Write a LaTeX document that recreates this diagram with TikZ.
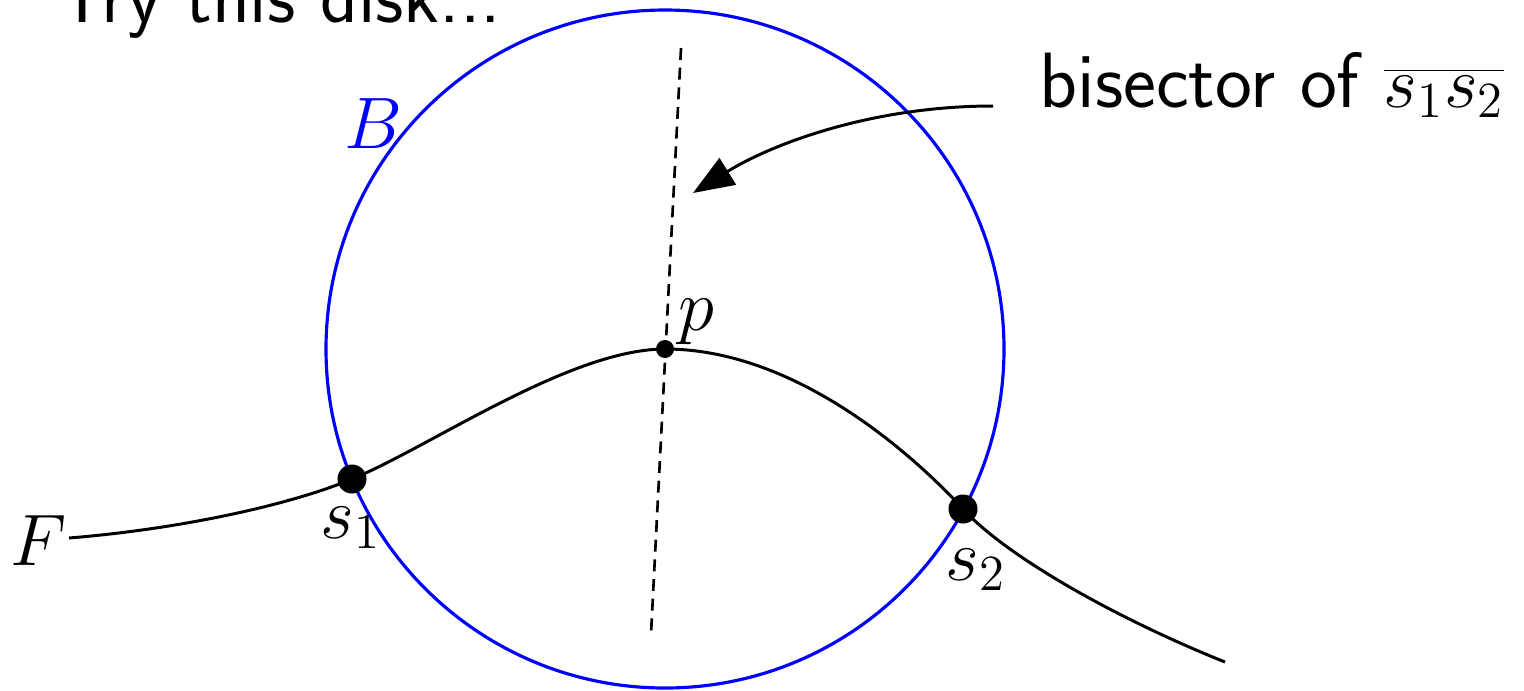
\documentclass[tikz,border=0pt]{standalone}
\usetikzlibrary{arrows.meta}
\begin{document}
\begin{tikzpicture}[x=0.01cm,y=-0.01cm,
  txt/.style={inner sep=0pt,anchor=base west,font=\fontsize{22.3}{27}\selectfont\sffamily},
  curveline/.style={line width=0.85pt,black},
  diskline/.style={line width=0.9pt,blue},
  bisline/.style={line width=0.75pt,dash pattern=on 3.4pt off 2.2pt},
  smalldot/.style={circle,fill=black,inner sep=0pt,minimum size=0.18cm},
  bigdot/.style={circle,fill=black,inner sep=0pt,minimum size=0.29cm}]
\useasboundingbox (0,0) rectangle (1524,690);
% disk
\draw[diskline] (665,349) circle[radius=339];
% bisector
\coordinate (btop) at (681,48);
\coordinate (bbot) at (651,634);
\draw[bisline] (btop) -- (bbot);
% curve F
\coordinate (fstart) at (69,538);
\coordinate (fend) at (1225,662);
\coordinate (cs1) at (352,479);
\coordinate (cp) at (665,349);
\coordinate (cs2) at (963,509);
\draw[curveline] (fstart) .. controls (180,529) and (290,505) .. (cs1)
  .. controls (430,447) and (570,349) .. (cp)
  .. controls (800,349) and (920,462) .. (cs2)
  .. controls (1008,558) and (1120,620) .. (fend);
% points
\node[bigdot] (s1) at (cs1) {};
\node[bigdot] (s2) at (cs2) {};
\node[smalldot] (p) at (cp) {};
% labels
\node[txt] (title) at (57,22) {Try this disk...};
\node[txt,text=blue] (lB) at (344,148) {$B$};
\node[txt] (lp) at (678,330) {$p$};
\node[txt] (ls1) at (320,538) {$s_1$};
\node[txt] (ls2) at (945,580) {$s_2$};
\node[txt] (lF) at (10,565) {$F$};
\node[txt] (lbis) at (1039,107) {bisector of $\overline{s_1s_2}$};
% arrow
\coordinate (astart) at (993,106);
\coordinate (atip) at (693,193);
\draw[curveline,-{Triangle[length=4.1mm,width=3.1mm]}] (astart) .. controls (870,106) and (770,145) .. (atip);
\end{tikzpicture}
\end{document}
